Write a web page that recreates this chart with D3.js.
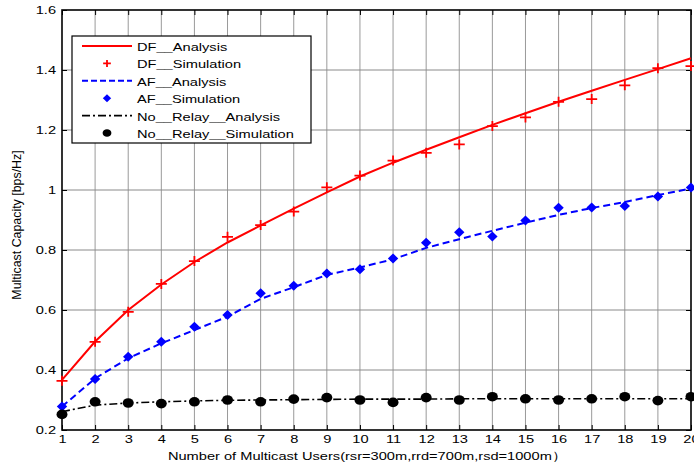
<!DOCTYPE html>
<html lang='en'>
<head>
  <meta charset='UTF-8'>
  <title>Multicast Capacity</title>
  <script src='https://d3js.org/d3.v7.min.js'></script>
  <style>
    body { margin: 0; background: #fff; }
    svg { display: block; font-family: 'Liberation Sans', Arial, sans-serif; }
  </style>
</head>
<body>
  <svg width='694' height='467'></svg>

  <script>
    var users = d3.range(1, 21);
    var yTicks = [0.2, 0.4, 0.6, 0.8, 1, 1.2, 1.4, 1.6];

    var dfAnalysis = [0.367, 0.495, 0.600, 0.685, 0.760, 0.825, 0.882, 0.938, 0.992, 1.045,
                      1.091, 1.134, 1.176, 1.217, 1.256, 1.294, 1.331, 1.367, 1.403, 1.439];
    var dfSim = [0.364, 0.494, 0.594, 0.687, 0.763, 0.844, 0.883, 0.928, 1.009, 1.048,
                 1.098, 1.124, 1.152, 1.213, 1.242, 1.294, 1.303, 1.349, 1.406, 1.413];
    var afAnalysis = [0.278, 0.372, 0.439, 0.489, 0.533, 0.578, 0.637, 0.676, 0.717, 0.742,
                      0.769, 0.807, 0.836, 0.864, 0.891, 0.917, 0.940, 0.960, 0.983, 1.005];
    var afSim = [0.278, 0.370, 0.444, 0.494, 0.544, 0.583, 0.656, 0.681, 0.722, 0.736,
                 0.772, 0.824, 0.859, 0.845, 0.898, 0.941, 0.942, 0.947, 0.978, 1.008];
    var nrAnalysis = [0.261, 0.283, 0.290, 0.294, 0.297, 0.299, 0.300, 0.301, 0.302, 0.303,
                      0.303, 0.303, 0.304, 0.304, 0.304, 0.304, 0.304, 0.304, 0.304, 0.304];
    var nrSim = [0.252, 0.294, 0.290, 0.288, 0.294, 0.300, 0.294, 0.303, 0.308, 0.300,
                 0.292, 0.308, 0.300, 0.311, 0.304, 0.300, 0.304, 0.311, 0.298, 0.311];

    var legendNames = ['DF__Analysis', 'DF__Simulation', 'AF__Analysis', 'AF__Simulation',
                       'No__Relay__Analysis', 'No__Relay__Simulation'];

    var svg = d3.select('svg'),
      margin = {top: 10, right: 3, bottom: 37, left: 62},
      width = +svg.attr('width') - margin.left - margin.right,
      height = +svg.attr('height') - margin.top - margin.bottom,
      g = svg.append('g').attr('transform', 'translate(' + margin.left + ',' + margin.top + ')');

    // the original picture is stretched sideways, text follows that
    var sx = 1.24, fs = 11.8;

    var x = d3.scaleLinear().domain([1, 20]).range([0, width]);
    var y = d3.scaleLinear().domain([0.2, 1.6]).range([height, 0]);

    // grid
    g.append('g').selectAll('line').data(users.slice(1, -1))
      .enter().append('line')
      .attr('x1', d => x(d)).attr('x2', d => x(d))
      .attr('y1', 0).attr('y2', height)
      .attr('stroke', '#9a9a9a').attr('stroke-width', 1);
    g.append('g').selectAll('line').data(yTicks.slice(1, -1))
      .enter().append('line')
      .attr('y1', d => y(d)).attr('y2', d => y(d))
      .attr('x1', 0).attr('x2', width)
      .attr('stroke', '#8a8a8a').attr('stroke-width', 1);

    // axes
    g.append('g')
      .attr('transform', 'translate(0,' + height + ')')
      .call(d3.axisBottom(x).tickValues(users).tickFormat(d3.format('d')).tickSizeInner(-5).tickSizeOuter(0).tickPadding(5));
    g.append('g')
      .call(d3.axisLeft(y).tickValues(yTicks).tickFormat(d => String(d)).tickSizeInner(-5).tickSizeOuter(0).tickPadding(6 / sx));
    g.append('g').call(d3.axisTop(x).tickValues(users).tickFormat('').tickSizeInner(-5).tickSizeOuter(0));
    g.append('g').attr('transform', 'translate(' + width + ',0)')
      .call(d3.axisRight(y).tickValues(yTicks).tickFormat('').tickSizeInner(-5).tickSizeOuter(0));
    g.selectAll('.domain').remove();
    g.selectAll('.tick line').attr('stroke', '#000');
    g.selectAll('.tick text').attr('font-size', fs).attr('fill', '#000')
      .attr('font-family', "'Liberation Sans', Arial, sans-serif")
      .attr('transform', 'scale(' + sx + ',1)');

    g.append('rect')
      .attr('width', width).attr('height', height)
      .attr('fill', 'none').attr('stroke', '#000').attr('stroke-width', 1.6);

    var line = d3.line()
      .x((d, i) => x(users[i]))
      .y(d => y(d));

    // curves
    g.append('path').datum(dfAnalysis)
      .attr('fill', 'none').attr('stroke', '#ff0000').attr('stroke-width', 2).attr('d', line);
    g.append('path').datum(afAnalysis)
      .attr('fill', 'none').attr('stroke', '#0000ff').attr('stroke-width', 2)
      .attr('stroke-dasharray', '7,4').attr('d', line);
    g.append('path').datum(nrAnalysis)
      .attr('fill', 'none').attr('stroke', '#000').attr('stroke-width', 1.6)
      .attr('stroke-dasharray', '8,3,2,3').attr('d', line);

    function drawPlus(sel, px, py, s) {
      sel.append('path')
        .attr('d', 'M' + (px - 5.5 * s) + ',' + py + 'H' + (px + 5.5 * s) + 'M' + px + ',' + (py - 5 * s) + 'V' + (py + 5 * s))
        .attr('stroke', '#ff0000').attr('stroke-width', 1.8).attr('fill', 'none');
    }
    function drawDiamond(sel, px, py, s) {
      sel.append('path')
        .attr('d', 'M' + px + ',' + (py - 5 * s) + 'L' + (px + 5.2 * s) + ',' + py + 'L' + px + ',' + (py + 5 * s) + 'L' + (px - 5.2 * s) + ',' + py + 'Z')
        .attr('fill', '#0000ff');
    }
    function drawDot(sel, px, py, s) {
      sel.append('ellipse').attr('cx', px).attr('cy', py).attr('rx', 5.5 * s).attr('ry', 4.8 * s)
        .attr('fill', '#000');
    }

    var marks = g.append('g');
    dfSim.forEach((v, i) => drawPlus(marks, x(users[i]), y(v), 1));
    afSim.forEach((v, i) => drawDiamond(marks, x(users[i]), y(v), 1));
    nrSim.forEach((v, i) => drawDot(marks, x(users[i]), y(v), 1));

    // legend
    var lg = svg.append('g').attr('transform', 'translate(72,36)');
    lg.append('rect').attr('width', 239).attr('height', 107)
      .attr('fill', '#fff').attr('stroke', '#000').attr('stroke-width', 1.2);
    var rowY = d3.scalePoint().domain(legendNames).range([10, 97]);
    legendNames.forEach((name, i) => {
      var yy = rowY(name);
      if (i === 0) {
        lg.append('line').attr('x1', 10).attr('x2', 60).attr('y1', yy).attr('y2', yy)
          .attr('stroke', '#ff0000').attr('stroke-width', 2);
      } else if (i === 1) {
        drawPlus(lg, 35, yy, 0.7);
      } else if (i === 2) {
        lg.append('line').attr('x1', 10).attr('x2', 60).attr('y1', yy).attr('y2', yy)
          .attr('stroke', '#0000ff').attr('stroke-width', 2).attr('stroke-dasharray', '6,3');
      } else if (i === 3) {
        drawDiamond(lg, 35, yy, 0.8);
      } else if (i === 4) {
        lg.append('line').attr('x1', 10).attr('x2', 60).attr('y1', yy).attr('y2', yy)
          .attr('stroke', '#000').attr('stroke-width', 1.6).attr('stroke-dasharray', '8,3,2,3');
      } else {
        drawDot(lg, 35, yy, 0.8);
      }
      lg.append('text')
        .attr('transform', 'translate(65,' + (yy + 5) + ') scale(' + sx + ',1)')
        .attr('font-size', fs).attr('fill', '#000').text(name);
    });

    // axis titles
    svg.append('text')
      .attr('transform', 'translate(367,460) scale(' + sx + ',1)')
      .attr('text-anchor', 'middle').attr('font-size', fs).attr('fill', '#000')
      .text('Number of Multicast Users(rsr=300m,rrd=700m,rsd=1000m\uFF09');
    svg.append('text')
      .attr('transform', 'translate(21,225) rotate(-90) scale(1,1.1)')
      .attr('text-anchor', 'middle').attr('font-size', 12.4).attr('fill', '#000')
      .text('Multicast Capacity [bps/Hz]');
  </script>
</body>
</html>
